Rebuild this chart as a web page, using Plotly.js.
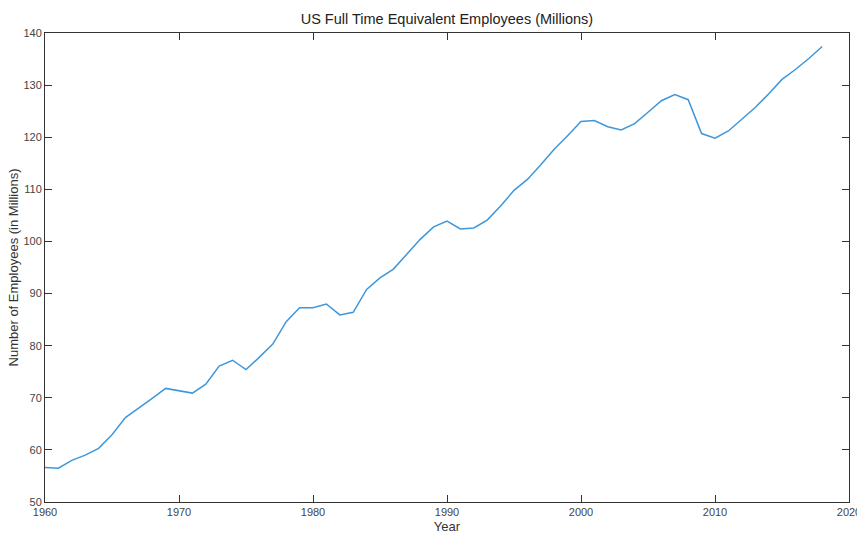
<!DOCTYPE html>
<html>
<head>
<meta charset="utf-8">
<script src="https://cdn.plot.ly/plotly-3.0.1.min.js"></script>
<style>html,body{margin:0;padding:0;background:#fff;}#chart{width:857px;height:538px;}</style>
</head>
<body>
<div id="chart"></div>
<script>
const years = [1960,1961,1962,1963,1964,1965,1966,1967,1968,1969,1970,1971,1972,1973,1974,1975,1976,1977,1978,1979,
  1980,1981,1982,1983,1984,1985,1986,1987,1988,1989,1990,1991,1992,1993,1994,1995,1996,1997,1998,1999,
  2000,2001,2002,2003,2004,2005,2006,2007,2008,2009,2010,2011,2012,2013,2014,2015,2016,2017,2018];
const employees = [56.6,56.5,58.0,59.0,60.3,62.9,66.2,68.0,69.9,71.8,71.3,70.9,72.6,76.1,77.2,75.4,77.8,80.3,84.6,87.3,
  87.3,88.0,85.9,86.4,90.8,93.0,94.7,97.6,100.4,102.8,103.9,102.4,102.6,104.1,106.8,109.8,111.9,114.7,117.7,120.3,
  123.0,123.2,122.0,121.4,122.6,124.8,127.0,128.2,127.2,120.7,119.8,121.2,123.5,125.7,128.3,131.1,133.0,135.1,137.4];
const xTicks = [1960,1970,1980,1990,2000,2010,2020];
const yTicks = [50,60,70,80,90,100,110,120,130,140];
const titleText = 'US Full Time Equivalent Employees (Millions)';
const xTitle = 'Year';
const yTitle = 'Number of Employees (in Millions)';

const axisCommon = {
  showgrid: false, zeroline: false, showline: true, mirror: 'ticks',
  linecolor: '#333333', linewidth: 1, ticks: 'inside', ticklen: 7, tickcolor: '#333333',
  ticklabeloverflow: 'allow',
  tickfont: {family: 'Arial, Liberation Sans, sans-serif', size: 11, color: '#444444'}
};

Plotly.newPlot('chart', [{
  x: years, y: employees, type: 'scatter', mode: 'lines',
  line: {color: '#3d97db', width: 1.5}
}], {
  width: 857, height: 538,
  margin: {l: 45, r: 8, t: 33, b: 36},
  paper_bgcolor: '#ffffff', plot_bgcolor: '#ffffff',
  showlegend: false,
  title: {text: titleText, x: 0.5215, xanchor: 'center', y: 0.965, yanchor: 'middle',
    font: {family: 'Arial, Liberation Sans, sans-serif', size: 14.5, color: '#222222'}},
  xaxis: Object.assign({}, axisCommon, {
    range: [1960, 2020], tickvals: xTicks, ticktext: xTicks.map(String),
    title: {text: xTitle, standoff: 4, font: {family: 'Arial, Liberation Sans, sans-serif', size: 13, color: '#333333'}}
  }),
  yaxis: Object.assign({}, axisCommon, {
    range: [50, 140], tickvals: yTicks, ticktext: yTicks.map(String),
    title: {text: yTitle, standoff: 1, font: {family: 'Arial, Liberation Sans, sans-serif', size: 13, color: '#333333'}}
  })
}, {staticPlot: true});
</script>
</body>
</html>
